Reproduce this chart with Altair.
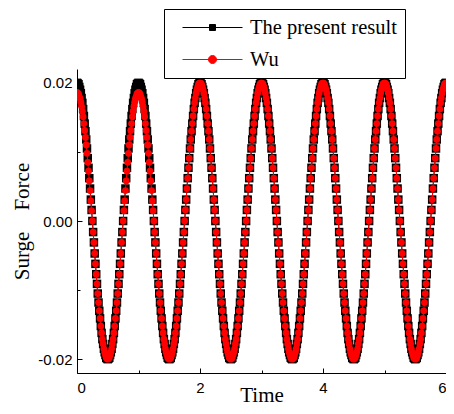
import altair as alt
import pandas as pd

# time grid (step 0.0125), 481 samples from 0 to 6
time = [round(i * 0.0125, 4) for i in range(481)]

present = [
    0.0200, 0.0199, 0.0198, 0.0194, 0.0190, 0.0185, 0.0178, 0.0171, 0.0162, 0.0152, 0.0141, 0.0130, 0.0118, 0.0105, 0.0091, 0.0077, 0.0062, 0.0047, 0.0031, 0.0016,
    0.0000, -0.0016, -0.0031, -0.0047, -0.0062, -0.0077, -0.0091, -0.0105, -0.0118, -0.0130, -0.0141, -0.0152, -0.0162, -0.0171, -0.0178, -0.0185, -0.0190, -0.0194, -0.0198, -0.0199,
    -0.0200, -0.0199, -0.0198, -0.0194, -0.0190, -0.0185, -0.0178, -0.0171, -0.0162, -0.0152, -0.0141, -0.0130, -0.0118, -0.0105, -0.0091, -0.0077, -0.0062, -0.0047, -0.0031, -0.0016,
    0.0000, 0.0016, 0.0031, 0.0047, 0.0062, 0.0077, 0.0091, 0.0105, 0.0118, 0.0130, 0.0141, 0.0152, 0.0162, 0.0171, 0.0178, 0.0185, 0.0190, 0.0194, 0.0198, 0.0199,
    0.0200, 0.0199, 0.0198, 0.0194, 0.0190, 0.0185, 0.0178, 0.0171, 0.0162, 0.0152, 0.0141, 0.0130, 0.0118, 0.0105, 0.0091, 0.0077, 0.0062, 0.0047, 0.0031, 0.0016,
    0.0000, -0.0016, -0.0031, -0.0047, -0.0062, -0.0077, -0.0091, -0.0105, -0.0118, -0.0130, -0.0141, -0.0152, -0.0162, -0.0171, -0.0178, -0.0185, -0.0190, -0.0194, -0.0198, -0.0199,
    -0.0200, -0.0199, -0.0198, -0.0194, -0.0190, -0.0185, -0.0178, -0.0171, -0.0162, -0.0152, -0.0141, -0.0130, -0.0118, -0.0105, -0.0091, -0.0077, -0.0062, -0.0047, -0.0031, -0.0016,
    0.0000, 0.0016, 0.0031, 0.0047, 0.0062, 0.0077, 0.0091, 0.0105, 0.0118, 0.0130, 0.0141, 0.0152, 0.0162, 0.0171, 0.0178, 0.0185, 0.0190, 0.0194, 0.0198, 0.0199,
    0.0200, 0.0199, 0.0198, 0.0194, 0.0190, 0.0185, 0.0178, 0.0171, 0.0162, 0.0152, 0.0141, 0.0130, 0.0118, 0.0105, 0.0091, 0.0077, 0.0062, 0.0047, 0.0031, 0.0016,
    0.0000, -0.0016, -0.0031, -0.0047, -0.0062, -0.0077, -0.0091, -0.0105, -0.0118, -0.0130, -0.0141, -0.0152, -0.0162, -0.0171, -0.0178, -0.0185, -0.0190, -0.0194, -0.0198, -0.0199,
    -0.0200, -0.0199, -0.0198, -0.0194, -0.0190, -0.0185, -0.0178, -0.0171, -0.0162, -0.0152, -0.0141, -0.0130, -0.0118, -0.0105, -0.0091, -0.0077, -0.0062, -0.0047, -0.0031, -0.0016,
    0.0000, 0.0016, 0.0031, 0.0047, 0.0062, 0.0077, 0.0091, 0.0105, 0.0118, 0.0130, 0.0141, 0.0152, 0.0162, 0.0171, 0.0178, 0.0185, 0.0190, 0.0194, 0.0198, 0.0199,
    0.0200, 0.0199, 0.0198, 0.0194, 0.0190, 0.0185, 0.0178, 0.0171, 0.0162, 0.0152, 0.0141, 0.0130, 0.0118, 0.0105, 0.0091, 0.0077, 0.0062, 0.0047, 0.0031, 0.0016,
    0.0000, -0.0016, -0.0031, -0.0047, -0.0062, -0.0077, -0.0091, -0.0105, -0.0118, -0.0130, -0.0141, -0.0152, -0.0162, -0.0171, -0.0178, -0.0185, -0.0190, -0.0194, -0.0198, -0.0199,
    -0.0200, -0.0199, -0.0198, -0.0194, -0.0190, -0.0185, -0.0178, -0.0171, -0.0162, -0.0152, -0.0141, -0.0130, -0.0118, -0.0105, -0.0091, -0.0077, -0.0062, -0.0047, -0.0031, -0.0016,
    0.0000, 0.0016, 0.0031, 0.0047, 0.0062, 0.0077, 0.0091, 0.0105, 0.0118, 0.0130, 0.0141, 0.0152, 0.0162, 0.0171, 0.0178, 0.0185, 0.0190, 0.0194, 0.0198, 0.0199,
    0.0200, 0.0199, 0.0198, 0.0194, 0.0190, 0.0185, 0.0178, 0.0171, 0.0162, 0.0152, 0.0141, 0.0130, 0.0118, 0.0105, 0.0091, 0.0077, 0.0062, 0.0047, 0.0031, 0.0016,
    0.0000, -0.0016, -0.0031, -0.0047, -0.0062, -0.0077, -0.0091, -0.0105, -0.0118, -0.0130, -0.0141, -0.0152, -0.0162, -0.0171, -0.0178, -0.0185, -0.0190, -0.0194, -0.0198, -0.0199,
    -0.0200, -0.0199, -0.0198, -0.0194, -0.0190, -0.0185, -0.0178, -0.0171, -0.0162, -0.0152, -0.0141, -0.0130, -0.0118, -0.0105, -0.0091, -0.0077, -0.0062, -0.0047, -0.0031, -0.0016,
    0.0000, 0.0016, 0.0031, 0.0047, 0.0062, 0.0077, 0.0091, 0.0105, 0.0118, 0.0130, 0.0141, 0.0152, 0.0162, 0.0171, 0.0178, 0.0185, 0.0190, 0.0194, 0.0198, 0.0199,
    0.0200, 0.0199, 0.0198, 0.0194, 0.0190, 0.0185, 0.0178, 0.0171, 0.0162, 0.0152, 0.0141, 0.0130, 0.0118, 0.0105, 0.0091, 0.0077, 0.0062, 0.0047, 0.0031, 0.0016,
    0.0000, -0.0016, -0.0031, -0.0047, -0.0062, -0.0077, -0.0091, -0.0105, -0.0118, -0.0130, -0.0141, -0.0152, -0.0162, -0.0171, -0.0178, -0.0185, -0.0190, -0.0194, -0.0198, -0.0199,
    -0.0200, -0.0199, -0.0198, -0.0194, -0.0190, -0.0185, -0.0178, -0.0171, -0.0162, -0.0152, -0.0141, -0.0130, -0.0118, -0.0105, -0.0091, -0.0077, -0.0062, -0.0047, -0.0031, -0.0016,
    0.0000, 0.0016, 0.0031, 0.0047, 0.0062, 0.0077, 0.0091, 0.0105, 0.0118, 0.0130, 0.0141, 0.0152, 0.0162, 0.0171, 0.0178, 0.0185, 0.0190, 0.0194, 0.0198, 0.0199,
    0.0200,
]

wu = [
    0.0186, 0.0185, 0.0184, 0.0180, 0.0177, 0.0172, 0.0166, 0.0159, 0.0151, 0.0141, 0.0131, 0.0121, 0.0110, 0.0098, 0.0085, 0.0072, 0.0058, 0.0044, 0.0029, 0.0015,
    0.0000, -0.0016, -0.0031, -0.0047, -0.0062, -0.0077, -0.0091, -0.0105, -0.0118, -0.0130, -0.0141, -0.0152, -0.0162, -0.0171, -0.0178, -0.0185, -0.0190, -0.0194, -0.0198, -0.0199,
    -0.0200, -0.0199, -0.0198, -0.0194, -0.0190, -0.0185, -0.0178, -0.0171, -0.0162, -0.0152, -0.0141, -0.0130, -0.0118, -0.0105, -0.0091, -0.0077, -0.0062, -0.0047, -0.0031, -0.0016,
    0.0000, 0.0015, 0.0029, 0.0044, 0.0058, 0.0072, 0.0085, 0.0098, 0.0110, 0.0121, 0.0131, 0.0141, 0.0151, 0.0159, 0.0166, 0.0172, 0.0177, 0.0180, 0.0184, 0.0185,
    0.0186, 0.0185, 0.0184, 0.0180, 0.0177, 0.0172, 0.0166, 0.0159, 0.0151, 0.0141, 0.0131, 0.0121, 0.0110, 0.0098, 0.0085, 0.0072, 0.0058, 0.0044, 0.0029, 0.0015,
    0.0000, -0.0016, -0.0031, -0.0047, -0.0062, -0.0077, -0.0091, -0.0105, -0.0118, -0.0130, -0.0141, -0.0152, -0.0162, -0.0171, -0.0178, -0.0185, -0.0190, -0.0194, -0.0198, -0.0199,
    -0.0200, -0.0199, -0.0198, -0.0194, -0.0190, -0.0185, -0.0178, -0.0171, -0.0162, -0.0152, -0.0141, -0.0130, -0.0118, -0.0105, -0.0091, -0.0077, -0.0062, -0.0047, -0.0031, -0.0016,
    0.0000, 0.0016, 0.0031, 0.0047, 0.0062, 0.0077, 0.0091, 0.0105, 0.0118, 0.0130, 0.0141, 0.0152, 0.0162, 0.0171, 0.0178, 0.0185, 0.0190, 0.0194, 0.0198, 0.0199,
    0.0200, 0.0199, 0.0198, 0.0194, 0.0190, 0.0185, 0.0178, 0.0171, 0.0162, 0.0152, 0.0141, 0.0130, 0.0118, 0.0105, 0.0091, 0.0077, 0.0062, 0.0047, 0.0031, 0.0016,
    0.0000, -0.0016, -0.0031, -0.0047, -0.0062, -0.0077, -0.0091, -0.0105, -0.0118, -0.0130, -0.0141, -0.0152, -0.0162, -0.0171, -0.0178, -0.0185, -0.0190, -0.0194, -0.0198, -0.0199,
    -0.0200, -0.0199, -0.0198, -0.0194, -0.0190, -0.0185, -0.0178, -0.0171, -0.0162, -0.0152, -0.0141, -0.0130, -0.0118, -0.0105, -0.0091, -0.0077, -0.0062, -0.0047, -0.0031, -0.0016,
    0.0000, 0.0016, 0.0031, 0.0047, 0.0062, 0.0077, 0.0091, 0.0105, 0.0118, 0.0130, 0.0141, 0.0152, 0.0162, 0.0171, 0.0178, 0.0185, 0.0190, 0.0194, 0.0198, 0.0199,
    0.0200, 0.0199, 0.0198, 0.0194, 0.0190, 0.0185, 0.0178, 0.0171, 0.0162, 0.0152, 0.0141, 0.0130, 0.0118, 0.0105, 0.0091, 0.0077, 0.0062, 0.0047, 0.0031, 0.0016,
    0.0000, -0.0016, -0.0031, -0.0047, -0.0062, -0.0077, -0.0091, -0.0105, -0.0118, -0.0130, -0.0141, -0.0152, -0.0162, -0.0171, -0.0178, -0.0185, -0.0190, -0.0194, -0.0198, -0.0199,
    -0.0200, -0.0199, -0.0198, -0.0194, -0.0190, -0.0185, -0.0178, -0.0171, -0.0162, -0.0152, -0.0141, -0.0130, -0.0118, -0.0105, -0.0091, -0.0077, -0.0062, -0.0047, -0.0031, -0.0016,
    0.0000, 0.0016, 0.0031, 0.0047, 0.0062, 0.0077, 0.0091, 0.0105, 0.0118, 0.0130, 0.0141, 0.0152, 0.0162, 0.0171, 0.0178, 0.0185, 0.0190, 0.0194, 0.0198, 0.0199,
    0.0200, 0.0199, 0.0198, 0.0194, 0.0190, 0.0185, 0.0178, 0.0171, 0.0162, 0.0152, 0.0141, 0.0130, 0.0118, 0.0105, 0.0091, 0.0077, 0.0062, 0.0047, 0.0031, 0.0016,
    0.0000, -0.0016, -0.0031, -0.0047, -0.0062, -0.0077, -0.0091, -0.0105, -0.0118, -0.0130, -0.0141, -0.0152, -0.0162, -0.0171, -0.0178, -0.0185, -0.0190, -0.0194, -0.0198, -0.0199,
    -0.0200, -0.0199, -0.0198, -0.0194, -0.0190, -0.0185, -0.0178, -0.0171, -0.0162, -0.0152, -0.0141, -0.0130, -0.0118, -0.0105, -0.0091, -0.0077, -0.0062, -0.0047, -0.0031, -0.0016,
    0.0000, 0.0016, 0.0031, 0.0047, 0.0062, 0.0077, 0.0091, 0.0105, 0.0118, 0.0130, 0.0141, 0.0152, 0.0162, 0.0171, 0.0178, 0.0185, 0.0190, 0.0194, 0.0198, 0.0199,
    0.0200, 0.0199, 0.0198, 0.0194, 0.0190, 0.0185, 0.0178, 0.0171, 0.0162, 0.0152, 0.0141, 0.0130, 0.0118, 0.0105, 0.0091, 0.0077, 0.0062, 0.0047, 0.0031, 0.0016,
    0.0000, -0.0016, -0.0031, -0.0047, -0.0062, -0.0077, -0.0091, -0.0105, -0.0118, -0.0130, -0.0141, -0.0152, -0.0162, -0.0171, -0.0178, -0.0185, -0.0190, -0.0194, -0.0198, -0.0199,
    -0.0200, -0.0199, -0.0198, -0.0194, -0.0190, -0.0185, -0.0178, -0.0171, -0.0162, -0.0152, -0.0141, -0.0130, -0.0118, -0.0105, -0.0091, -0.0077, -0.0062, -0.0047, -0.0031, -0.0016,
    0.0000, 0.0016, 0.0031, 0.0047, 0.0062, 0.0077, 0.0091, 0.0105, 0.0118, 0.0130, 0.0141, 0.0152, 0.0162, 0.0171, 0.0178, 0.0185, 0.0190, 0.0194, 0.0198, 0.0199,
    0.0200,
]

series_names = ["The present result", "Wu"]
x_ticks = [0, 2, 4, 6]
x_minor = [1, 3, 5]
y_ticks = [-0.02, 0.0, 0.02]
y_minor = [-0.01, 0.01]

df = pd.DataFrame({
    "t": time + time,
    "v": present + wu,
    "series": [series_names[0]] * len(present) + [series_names[1]] * len(wu),
})

W, H = 369, 304
SERIF = "Liberation Serif"
SANS = "Liberation Sans"

xs = alt.Scale(domain=[0, 6], nice=False, zero=False, padding=0)
ys = alt.Scale(domain=[-0.022, 0.022], nice=False, zero=False, padding=0)

x_main = alt.Axis(orient="bottom", values=x_ticks, format="d", ticks=False, grid=False,
                  domainColor="black", domainWidth=1,
                  labelFont=SANS, labelFontSize=15, labelColor="black", labelPadding=7,
                  title="Time", titleFont=SERIF, titleFontSize=21, titleFontWeight="normal",
                  titleColor="black", titleBaseline="alphabetic", titleY=28)
y_main = alt.Axis(orient="left", values=y_ticks, ticks=False, grid=False,
                  labelExpr="datum.value < 0 ? '-' + format(-datum.value, '.2f') : format(datum.value, '.2f')",
                  domainColor="black", domainWidth=1,
                  labelFont=SANS, labelFontSize=15, labelColor="black", labelPadding=5,
                  title="Surge\u00a0\u00a0\u00a0\u00a0Force", titleFont=SERIF, titleFontSize=21,
                  titleFontWeight="normal", titleColor="black", titlePadding=5)
x_major_ticks = alt.Axis(orient="top", offset=-H, values=x_ticks, labels=False, domain=False,
                         grid=False, tickSize=5, tickColor="black", tickWidth=1, title=None)
y_major_ticks = alt.Axis(orient="right", offset=-W, values=y_ticks, labels=False, domain=False,
                         grid=False, tickSize=5, tickColor="black", tickWidth=1, title=None)
x_minor_ticks = alt.Axis(orient="top", offset=-H, values=x_minor, labels=False, domain=False,
                         grid=False, tickSize=3, tickColor="black", tickWidth=1, title=None)
y_minor_ticks = alt.Axis(orient="right", offset=-W, values=y_minor, labels=False, domain=False,
                         grid=False, tickSize=3, tickColor="black", tickWidth=1, title=None)

base = alt.Chart(df)
black = base.transform_filter(alt.datum.series == series_names[0])
red = base.transform_filter(alt.datum.series == series_names[1])

l1 = black.mark_line(color="black", strokeWidth=1, clip=True).encode(
    x=alt.X("t:Q", scale=xs, axis=x_main), y=alt.Y("v:Q", scale=ys, axis=y_main))
l2 = black.mark_point(shape="square", filled=True, color="black", size=72, opacity=1, clip=True).encode(
    x=alt.X("t:Q", scale=xs, axis=x_major_ticks), y=alt.Y("v:Q", scale=ys, axis=y_major_ticks))
l3 = red.mark_line(color="#ff0000", strokeWidth=1, clip=True).encode(
    x=alt.X("t:Q", scale=xs, axis=x_minor_ticks), y=alt.Y("v:Q", scale=ys, axis=y_minor_ticks))
l4 = red.mark_point(shape="circle", filled=True, color="#ff0000", size=46, opacity=1, clip=True).encode(
    x=alt.X("t:Q", scale=xs, axis=None), y=alt.Y("v:Q", scale=ys, axis=None))

sq_path = "M0,0H6M2.7,-0.3H3.3V0.3H2.7Z"
ci_path = "M0,0H6M3.4,0A0.4,0.4,0,1,1,2.6,0A0.4,0.4,0,1,1,3.4,0Z"

leg = alt.Legend(title=None, orient="none", legendX=87, legendY=-60, padding=8, rowPadding=11,
                 symbolSize=400, symbolStrokeWidth=1, labelFont=SERIF, labelFontSize=20.5,
                 labelColor="black", labelOffset=57, strokeColor="black", fillColor="white",
                 cornerRadius=0, symbolOpacity=1)

l5 = base.transform_filter("false").mark_point(filled=True, size=400, strokeWidth=1, opacity=1).encode(
    fill=alt.Fill("series:N", scale=alt.Scale(domain=series_names, range=["black", "#ff0000"]), legend=leg),
    stroke=alt.Stroke("series:N", scale=alt.Scale(domain=series_names, range=["black", "#ff0000"]), legend=leg),
    shape=alt.Shape("series:N", scale=alt.Scale(domain=series_names, range=[sq_path, ci_path]), legend=leg),
)

chart = alt.layer(l1, l2, l3, l4, l5).resolve_axis(x="independent", y="independent").properties(
    width=W, height=H,
    autosize=alt.AutoSizeParams(type="none"),
    padding={"left": 69, "top": 61, "right": 0, "bottom": 33},
    background="white",
).configure_view(strokeWidth=0)

chart.save("out.html", embed_options={"renderer": "svg", "actions": False})
